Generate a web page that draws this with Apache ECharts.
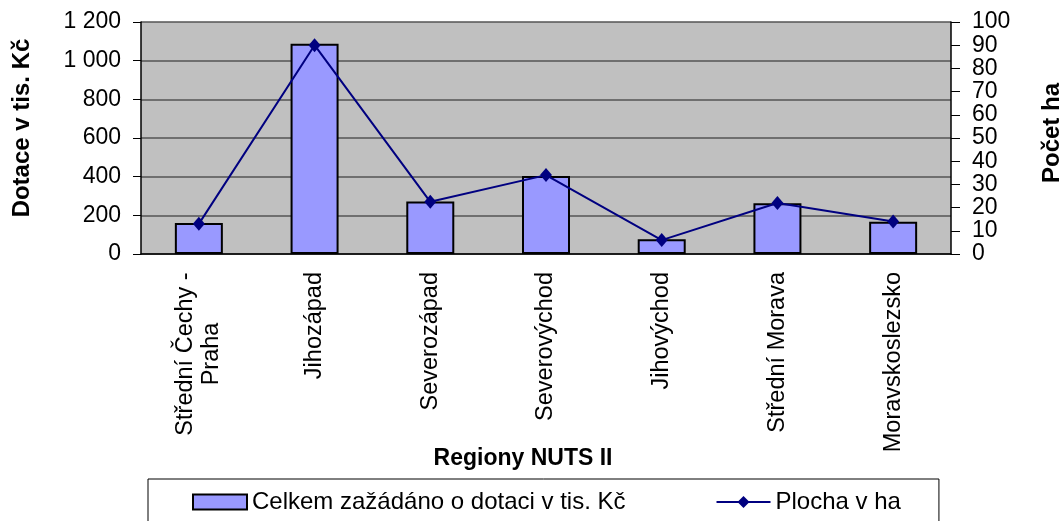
<!DOCTYPE html>
<html>
<head>
<meta charset="utf-8">
<script src="https://cdn.jsdelivr.net/npm/echarts@6/dist/echarts.min.js"></script>
<style>
  html, body {margin: 0; padding: 0; background: #fff;}
  #chart {width: 1064px; height: 521px;}
</style>
</head>
<body>
<div id="chart"></div>
<script>
  // regiony NUTS II
  var categories = ['Střední Čechy -\nPraha', 'Jihozápad', 'Severozápad', 'Severovýchod', 'Jihovýchod', 'Střední Morava', 'Moravskoslezsko'];
  // celkem zazadano o dotaci v tis. Kc
  var dotace = [160, 1088, 271, 404, 76, 262, 167];
  // plocha v ha
  var plocha = [13, 90, 22.5, 34, 6, 22, 14];

  var barName = 'Celkem zažádáno o dotaci v tis. Kč';
  var lineName = 'Plocha v ha';
  var font = 'Arial, "Liberation Sans", sans-serif';

  function thousands(v) {
    return String(v).replace(/\B(?=(\d{3})+(?!\d))/g, ' ');
  }

  var chart = echarts.init(document.getElementById('chart'));
  var option = {
    animation: false,
    textStyle: {fontFamily: font, color: '#000'},
    grid: {
      left: 141,
      right: 113,
      top: 22,
      bottom: 267,
      show: true,
      backgroundColor: '#c0c0c0',
      borderWidth: 0
    },
    legend: {
      left: 148,
      top: 479,
      padding: [11, 38, 40, 44],
      itemGap: 90,
      itemWidth: 54,
      itemHeight: 15,
      borderColor: '#000',
      borderWidth: 1,
      textStyle: {fontSize: 24, color: '#000', fontFamily: font},
      data: [{name: barName, icon: 'rect'}, {name: lineName}]
    },
    xAxis: {
      type: 'category',
      data: categories,
      axisLine: {lineStyle: {color: '#000', width: 1.5}},
      axisTick: {length: 8, lineStyle: {color: '#000'}},
      axisLabel: {
        rotate: 90,
        margin: 18,
        fontSize: 23.5,
        color: '#000',
        formatter: function (v) {
          var lines = v.split('\n');
          if (lines.length === 1) return v;
          return lines.map(function (l) { return '{c|' + l + '}'; }).join('\n');
        },
        rich: {
          c: {width: 164, align: 'center', fontSize: 23.5, lineHeight: 26, color: '#000'}
        }
      }
    },
    yAxis: [
      {
        type: 'value',
        min: 0,
        max: 1200,
        interval: 200,
        axisLine: {show: true, lineStyle: {color: '#000', width: 1.5}},
        axisTick: {show: true, length: 8, lineStyle: {color: '#000'}},
        axisLabel: {fontSize: 23, color: '#000', margin: 20, formatter: thousands},
        splitLine: {lineStyle: {color: '#555', width: 1.5}}
      },
      {
        type: 'value',
        min: 0,
        max: 100,
        interval: 10,
        position: 'right',
        axisLine: {show: true, lineStyle: {color: '#000', width: 1.5}},
        axisTick: {show: true, length: 9, lineStyle: {color: '#000'}},
        axisLabel: {fontSize: 23, color: '#000', margin: 21},
        splitLine: {show: false}
      }
    ],
    graphic: [
      {
        type: 'text', x: 22, y: 128, rotation: Math.PI / 2,
        style: {text: 'Dotace v tis. Kč', align: 'center', verticalAlign: 'middle',
          font: 'bold 24px ' + font, fill: '#000'}
      },
      {
        type: 'text', x: 1052, y: 133, rotation: Math.PI / 2,
        style: {text: 'Počet ha', align: 'center', verticalAlign: 'middle',
          font: 'bold 24px ' + font, fill: '#000'}
      },
      {
        type: 'text', x: 523, y: 459,
        style: {text: 'Regiony NUTS II', align: 'center', verticalAlign: 'middle',
          font: 'bold 23px ' + font, fill: '#000'}
      }
    ],
    series: [
      {
        name: barName,
        type: 'bar',
        yAxisIndex: 0,
        barWidth: 48,
        data: dotace,
        itemStyle: {color: '#9999ff', borderColor: '#000', borderWidth: 2}
      },
      {
        name: lineName,
        type: 'line',
        yAxisIndex: 1,
        data: plocha,
        symbol: 'diamond',
        symbolSize: [12, 14],
        lineStyle: {color: '#000080', width: 2},
        itemStyle: {color: '#000080'}
      }
    ]
  };
  chart.setOption(option);
</script>
</body>
</html>
